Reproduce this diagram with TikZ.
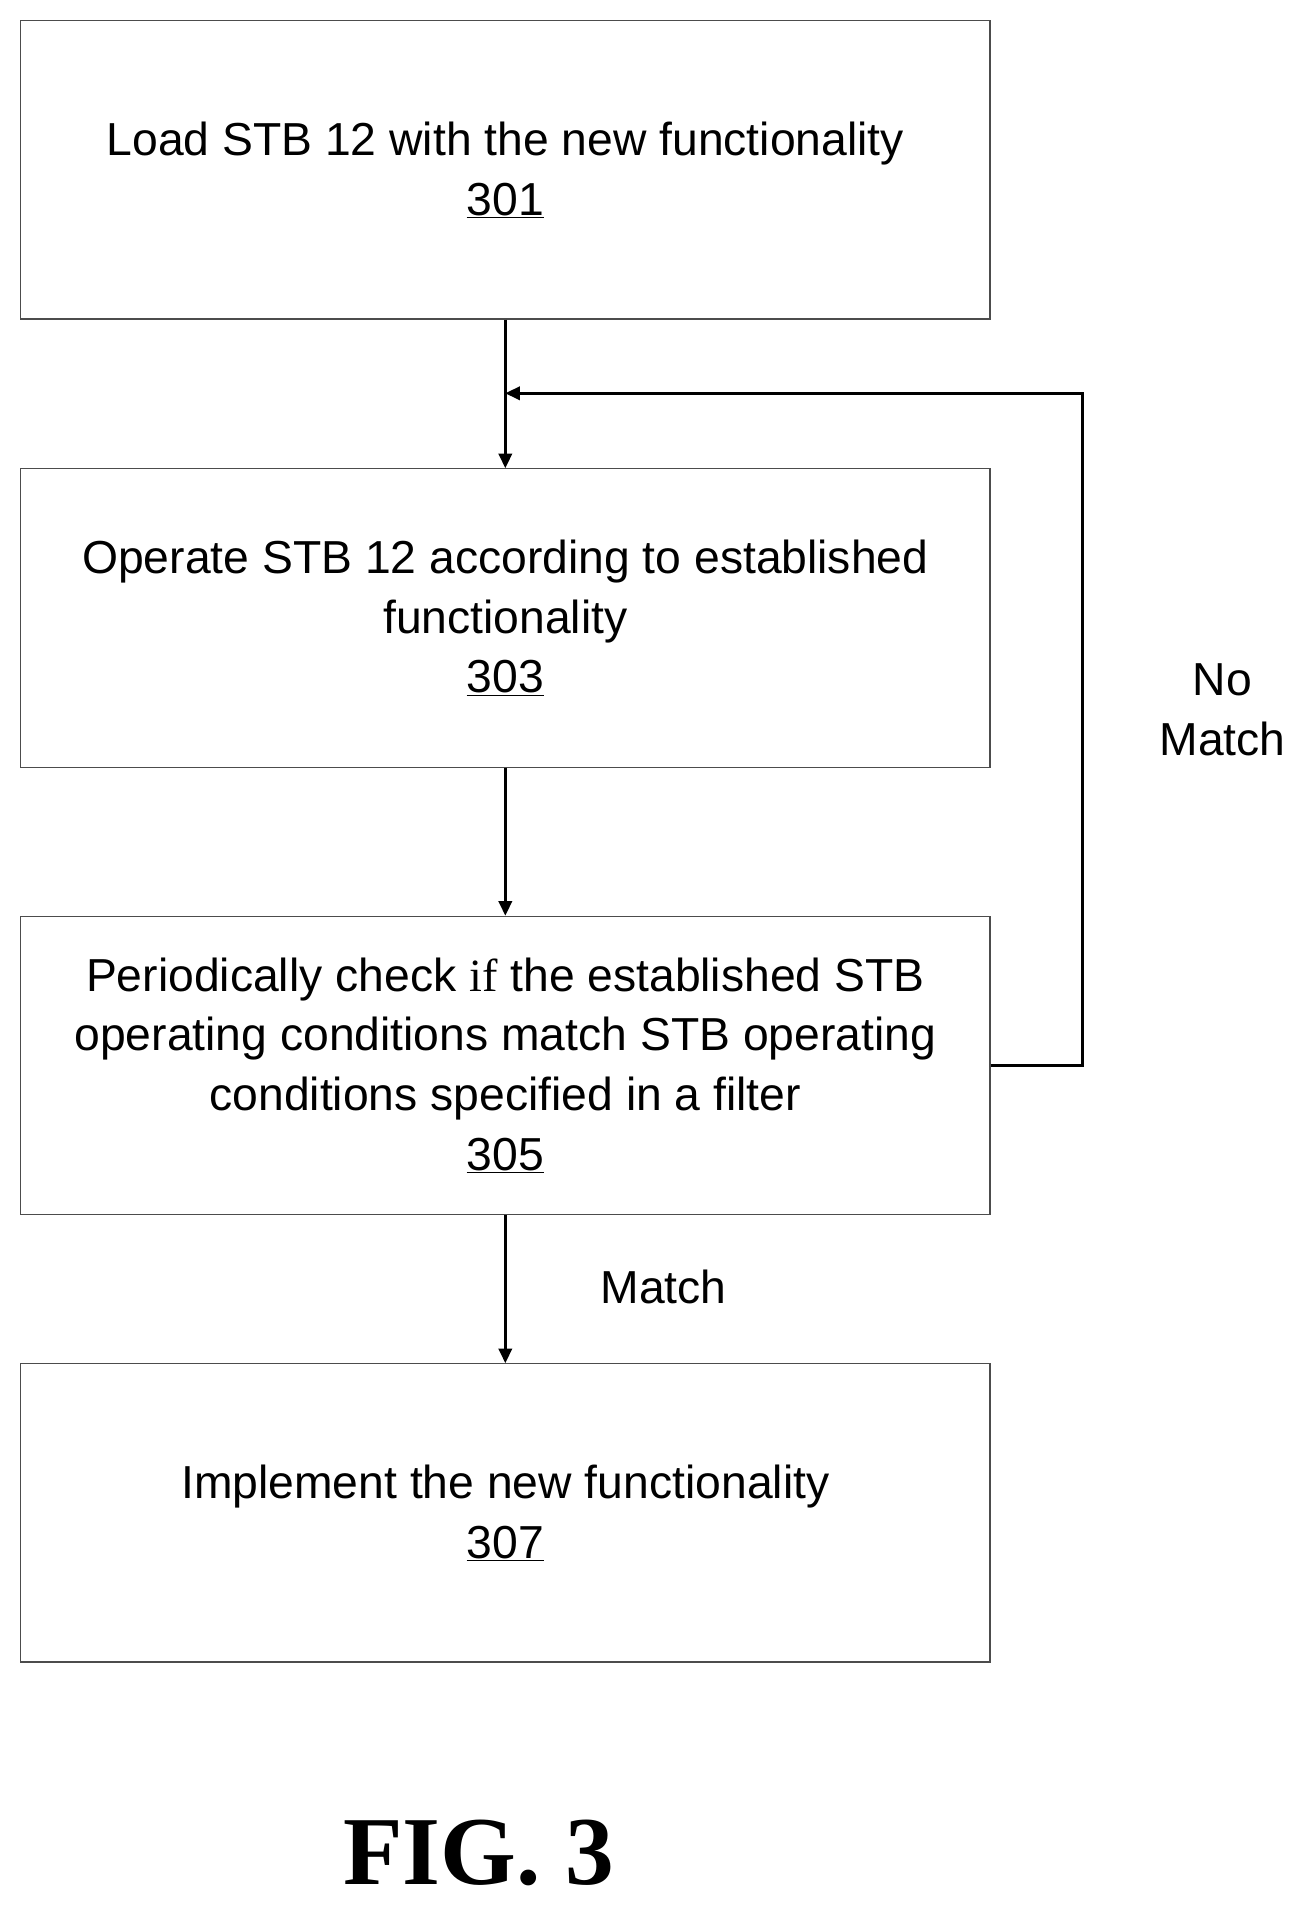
\documentclass[tikz,border=0pt]{standalone}
\usepackage{fontspec}
\setmainfont{Liberation Sans}
\newfontfamily\serifx{Liberation Serif}
\usetikzlibrary{arrows.meta}
\begin{document}
\begin{tikzpicture}[x=1pt,y=-1pt,
  box/.style={draw=black!70,line width=1pt,minimum width=796pt,minimum height=245pt,align=center,font=\fontsize{38}{49}\selectfont,inner sep=0pt},
  arr/.style={line width=2.2pt,-{Triangle[length=12pt,width=11pt]}},
  lbl/.style={font=\fontsize{38}{49}\selectfont,align=center}]
\useasboundingbox (0,0) rectangle (1080,1576);
\node[box] (b1) at (415,139.5) {Load STB 12 with the new functionality\\\underline{301}};
\node[box] (b2) at (415,507.5) {Operate STB 12 according to established\\functionality\\\underline{303}};
\node[box] (b3) at (415,875) {Periodically check {\serifx if} the established STB\\operating conditions match STB operating\\conditions specified in a filter\\\underline{305}};
\node[box] (b4) at (415,1242.5) {Implement the new functionality\\\underline{307}};
\draw[arr] (b1) -- (b2);
\draw[arr] (b2) -- (b3);
\draw[arr] (b3) -- (b4);
\coordinate (j) at (415,323);
\draw[arr] (b3.east) -- (889,875) -- (889,323) -- (j);
\node[lbl] (nm) at (1004,583) {No\\Match};
\node[lbl] (m) at (545,1057) {Match};
\node[font=\serifx\bfseries\fontsize{80}{80}\selectfont] (fig) at (393,1522) {FIG. 3};
\end{tikzpicture}
\end{document}
